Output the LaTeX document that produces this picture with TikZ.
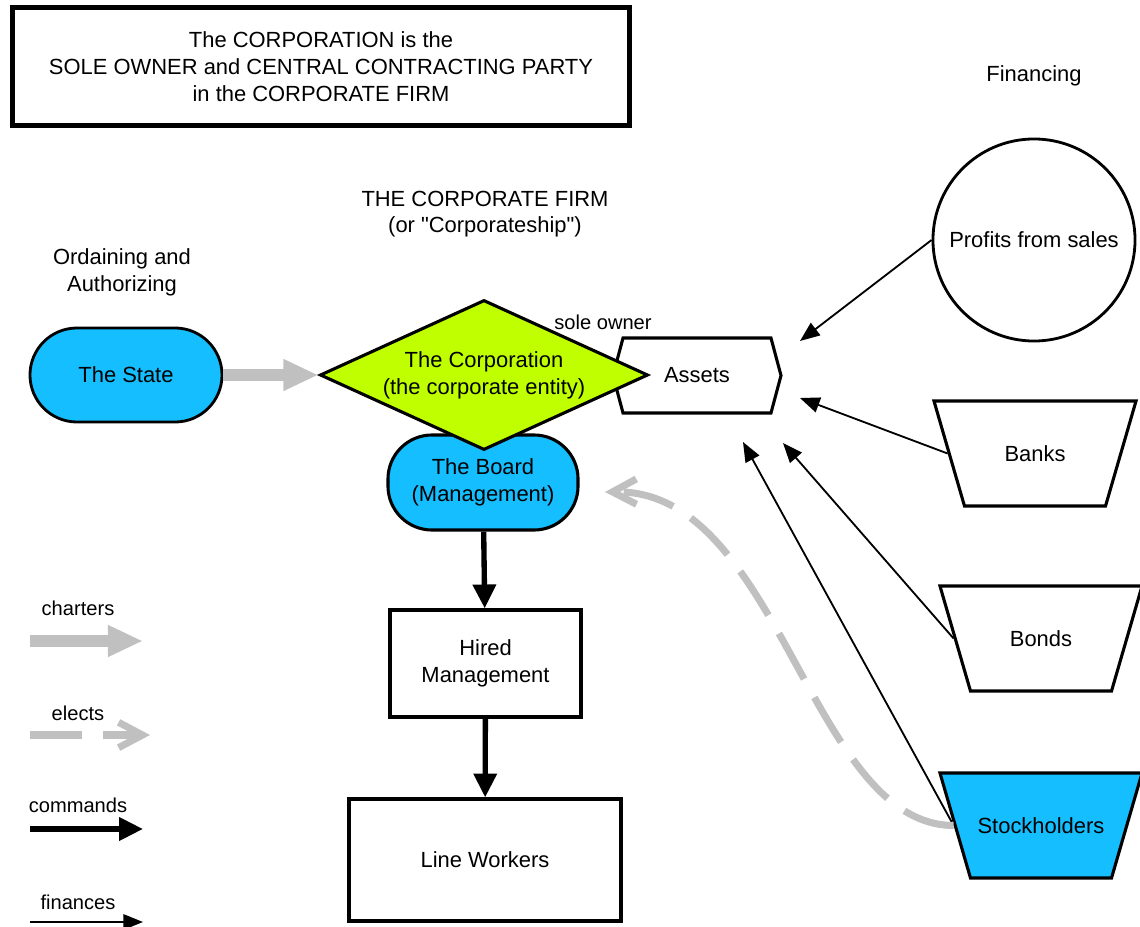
\documentclass[tikz,border=0pt]{standalone}
\usepackage{fontspec}
\setmainfont{Liberation Sans}
\usepackage{xcolor}
\usepackage{tikz}
\usetikzlibrary{arrows.meta,shapes.geometric,shapes.symbols}

\definecolor{firmblue}{RGB}{20,190,255}
\definecolor{firmgreen}{RGB}{192,255,0}
\definecolor{firmgray}{RGB}{192,192,192}

\begin{document}
\begin{tikzpicture}[x=0.025cm,y=-0.025cm,line join=miter]
\tikzstyle{every node}=[font=\fontsize{15.6}{19}\selectfont,align=center]
\tikzstyle{small}=[font=\fontsize{14.3}{17}\selectfont]
\tikzstyle{pill}=[draw,line width=2pt,fill=firmblue,minimum width=48mm,minimum height=23.5mm,rounded corners=11.75mm]
\tikzstyle{box}=[draw,line width=2.2pt,fill=white]
\tikzstyle{funnel}=[draw,line width=2.2pt,fill=white,trapezium,shape border rotate=180,trapezium left angle=73.8,trapezium right angle=73.8,text width=35.25mm,inner xsep=0pt,inner ysep=31.85pt,text height=11pt,text depth=0pt]
\tikzstyle{charters}=[firmgray,line width=8.5pt,-{Triangle[length=25pt,width=21pt]}]
\tikzstyle{elects}=[firmgray,line width=5pt,dash pattern=on 37pt off 15pt,-{Straight Barb[length=17pt,width=18pt]}]
\tikzstyle{commands}=[black,line width=3.8pt,-{Triangle[length=17pt,width=16pt]}]
\tikzstyle{finances}=[black,line width=1.3pt,-{Triangle[length=14pt,width=11pt]}]

\useasboundingbox (0,0) rectangle (1140,927);

\node[draw,line width=3.6pt,minimum width=154.2mm,minimum height=29.5mm] (title) at (321,66.5)
  {The CORPORATION is the\\SOLE OWNER and CENTRAL CONTRACTING PARTY\\in the CORPORATE FIRM};
\node (fin) at (1034,76) {Financing};
\node (firm) at (485,214) {THE CORPORATE FIRM\\(or \textquotedbl Corporateship\textquotedbl)};
\node (ord) at (122,272) {Ordaining and\\Authorizing};

\node[pill] (state) at (126,375) {The State};
\node[box,rounded corners=11mm,fill=firmblue,minimum width=47.5mm,minimum height=23.75mm] (board) at (483,482.5) {The Board\\(Management)};
\node[box,signal,signal to=east and west,signal pointer angle=150,minimum width=42mm,minimum height=18.75mm] (assets) at (697,375.5) {Assets};
\node[box,diamond,fill=firmgreen,inner sep=0pt,aspect=2.19,minimum width=82mm,minimum height=37.5mm] (corp) at (484,375) {The Corporation\\(the corporate entity)};
\node[small] (owner) at (603,322) {sole owner};
\node[box,minimum width=47.75mm,minimum height=26.75mm] (hired) at (485.5,663.5) {Hired\\Management};
\node[box,minimum width=68mm,minimum height=30.5mm] (workers) at (485,860) {Line Workers};

\node[box,circle,line width=2pt,minimum size=50.5mm] (profits) at (1034,240) {Profits from sales};
\node[funnel] (banks) at (1035,453.5) {Banks};
\node[funnel] (bonds) at (1041,638.5) {Bonds};
\node[funnel,fill=firmblue] (stock) at (1041,825.5) {Stockholders};

\coordinate (f1) at (800,341);
\coordinate (f2) at (800,398);
\coordinate (f3) at (783,443);
\coordinate (f4) at (743,442);
\coordinate (e1) at (605,492);

\path   (state)     edge[charters]  (corp)
        (board)     edge[commands]  (hired)
        (hired)     edge[commands]  (workers)
        (profits.west) edge[finances] (f1)
        (banks.west)   edge[finances] (f2)
        (bonds.west)   edge[finances] (f3)
        (stock.west)   edge[finances] (f4);
\draw[elects] (stock.west) .. controls (810,825) and (780,490) .. (e1);

\node[small] (lchart) at (78,608) {charters};
\node[small] (lelect) at (78,713) {elects};
\node[small] (lcomm) at (78,805) {commands};
\node[small] (lfin) at (78,902) {finances};
\coordinate (c1) at (30,641);  \coordinate (c2) at (143,641);
\coordinate (d1) at (30,735);  \coordinate (d2) at (150,735);
\coordinate (m1) at (30,829);  \coordinate (m2) at (143,829);
\coordinate (n1) at (30,922);  \coordinate (n2) at (143,922);
\path   (c1) edge[charters] (c2)
        (d1) edge[elects]   (d2)
        (m1) edge[commands] (m2)
        (n1) edge[finances] (n2);

\end{tikzpicture}
\end{document}
